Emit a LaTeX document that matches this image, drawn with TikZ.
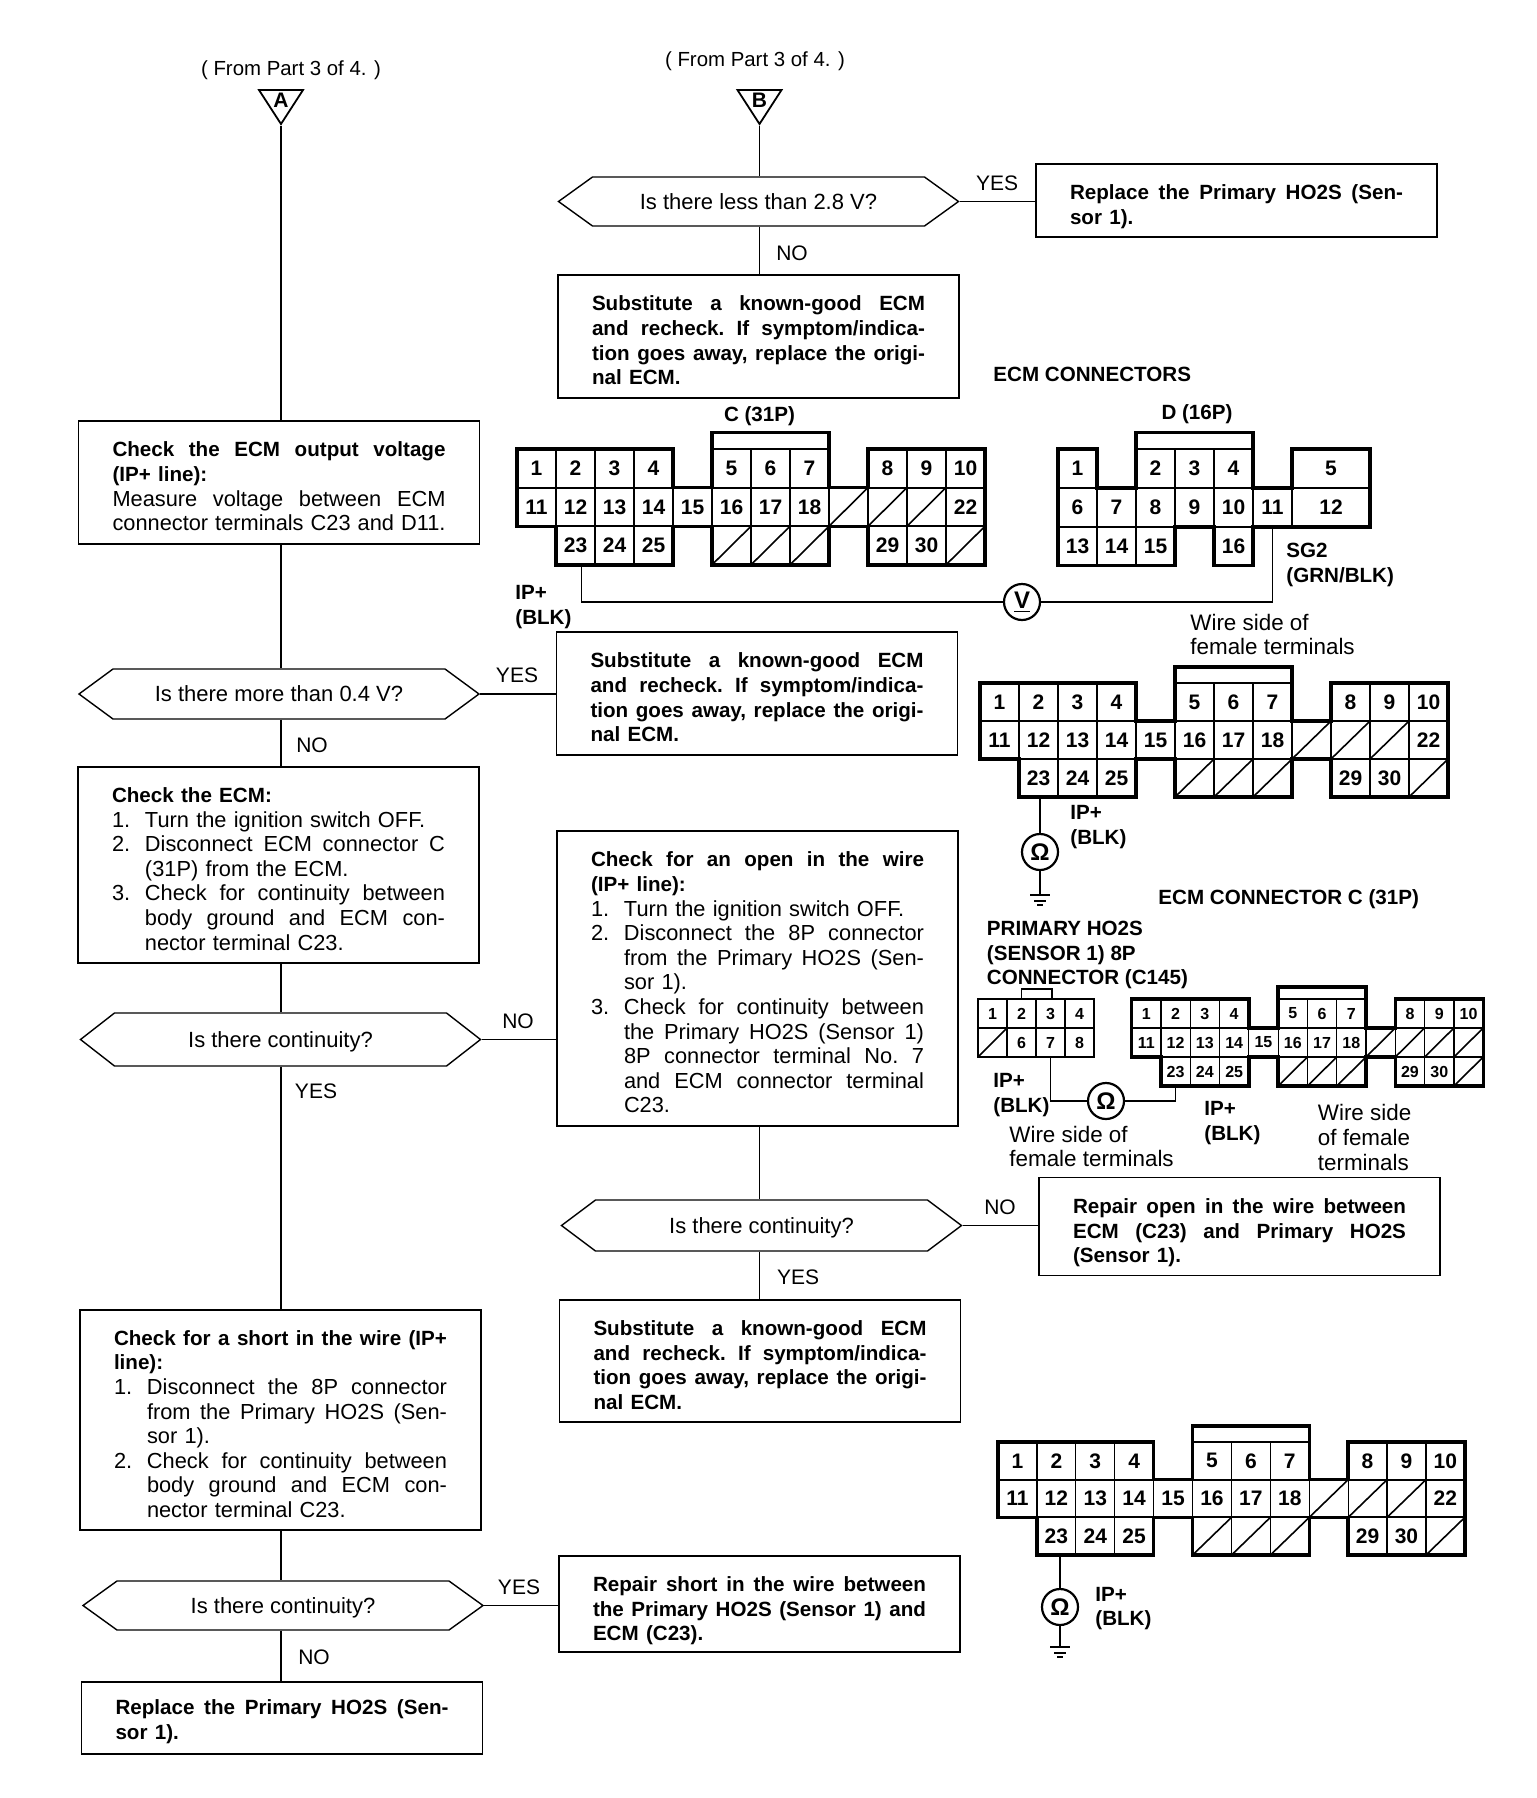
\documentclass[tikz,border=0pt]{standalone}
\usepackage{fontspec}
\setmainfont{Liberation Sans}
\usetikzlibrary{shapes.symbols,shapes.geometric}

\newlength{\txtw}
\setlength{\txtw}{166.5pt}
\newlength{\numw}
\setlength{\numw}{16.5pt}
\newcommand{\boxbold}{\bfseries\fontsize{10.3}{12.3}\selectfont}
\newcommand{\boxplain}{\mdseries\fontsize{10.9}{12.3}\selectfont}
% stretched line, stretched numbered line, plain numbered line
\newcommand{\justline}[1]{\makebox[\txtw][s]{\frenchspacing\spaceskip=0pt\xspaceskip=0pt #1}}
\newcommand{\numline}[2]{\makebox[\numw][l]{#1}\makebox[\dimexpr\txtw-\numw\relax][s]{\frenchspacing\spaceskip=0pt\xspaceskip=0pt #2}}
\newcommand{\numrag}[2]{\makebox[\numw][l]{#1}#2}

% name, x, y, x pitch, y pitch, number style, 1 if cell 22 is there
\newcommand{\ecmconn}[7]{
  \begin{scope}[shift={(#2,#3)},xscale=#4,yscale=#5,
      cell/.style={#6,minimum width=#4*0.5pt,minimum height=#5*0.5pt}]
    \foreach \c in {1,2,3,6,7,10,11} \draw[connline] (\c,0) -- (\c,3);
    \foreach \c in {4,5,8,9} \draw[connline] (\c,1) -- (\c,2);
    \draw[connrow] (0,1) -- (4,1) (5,1) -- (8,1) (9,1) -- (12,1);
    \draw[connrow] (1,2) -- (4,2) (5,2) -- (8,2) (9,2) -- (12,2);
    \draw[connrow] (5,0) -- (8,0);
    \foreach \c in {8,9,10} \draw[connslash] (\c,2) -- (\c+1,1);
    \foreach \c in {5,6,7,11} \draw[connslash] (\c,3) -- (\c+1,2);
    \draw[connedge] (0,0) -- (4,0) -- (4,1) -- (5,1) -- (5,-.42) -- (8,-.42) -- (8,1)
      -- (9,1) -- (9,0) -- (12,0) -- (12,3) -- (9,3) -- (9,2) -- (8,2) -- (8,3)
      -- (5,3) -- (5,2) -- (4,2) -- (4,3) -- (1,3) -- (1,2) -- (0,2) -- cycle;
    \foreach \n/\c in {1/0,2/1,3/2,4/3,5/5,6/6,7/7,8/9,9/10,10/11}
      \node[cell] (#1-\n) at (\c+.5,.5) {\n};
    \foreach \n/\c in {11/0,12/1,13/2,14/3,15/4,16/5,17/6,18/7}
      \node[cell] (#1-\n) at (\c+.5,1.5) {\n};
    \foreach \n/\c in {23/1,24/2,25/3,29/9,30/10}
      \node[cell] (#1-\n) at (\c+.5,2.5) {\n};
    \ifnum#7=1
      \node[cell] (#1-22) at (11.5,1.5) {22};
    \else
      \draw[connslash] (11,2) -- (12,1);
    \fi
  \end{scope}
}
% three bars under a named coordinate
\newcommand{\gndbars}[1]{
  \draw[wire] ([xshift=-5pt]#1) -- ([xshift=5pt]#1);
  \draw[wire] ([xshift=-3pt,yshift=-3pt]#1) -- ([xshift=3pt,yshift=-3pt]#1);
  \draw[wire] ([xshift=-1.5pt,yshift=-5pt]#1) -- ([xshift=1.5pt,yshift=-5pt]#1);
}

\begin{document}
\begin{tikzpicture}[
    x=0.5pt,y=-0.5pt,
    textfont/.style={font=\boxplain},
    boldfont/.style={font=\bfseries\fontsize{10.3}{12.3}\selectfont},
    every label/.style={font=\fontsize{11}{12.3}\selectfont,inner sep=0pt,text height=7.8pt,text depth=0pt},
    flowbox/.style={draw,line width=0.7pt,textfont,inner xsep=17pt,inner ysep=0pt,text width=\txtw,align=left,
      execute at begin node={\rule{0pt}{#1}}},
    flowbox/.default=11.4pt,
    flowhex/.style={draw,line width=0.7pt,signal,signal to=west and east,signal pointer angle={2*atan(#1/68)},
      minimum width=200pt,minimum height=#1*0.5pt,inner sep=0pt},
    flowtri/.style={draw,line width=0.9pt,isosceles triangle,isosceles triangle stretches,shape border rotate=-90,
      minimum width=22pt,minimum height=17pt,inner sep=0pt,font=\bfseries\fontsize{10.5}{12}\selectfont},
    flow/.style={line width=0.7pt},
    note/.style={font=\fontsize{10.5}{12.3}\selectfont,inner sep=0pt,align=left},
    wirenote/.style={font=\fontsize{11.2}{12.3}\selectfont,inner sep=0pt,align=left},
    boldnote/.style={boldfont,inner sep=0pt,align=left},
    wire/.style={line width=0.8pt},
    meter/.style={draw,circle,line width=1.1pt,minimum size=18pt,inner sep=0pt,font=\bfseries\fontsize{12}{12}\selectfont},
    connline/.style={line width=0.6pt},
    connrow/.style={line width=1pt},
    connslash/.style={line width=0.8pt},
    connedge/.style={line width=1.7pt,line join=miter},
    bignum/.style={inner sep=0pt,font=\bfseries\fontsize{10.5}{12}\selectfont},
    smallnum/.style={inner sep=0pt,font=\bfseries\fontsize{8}{10}\selectfont}]
  \useasboundingbox (0,0) rectangle (1536,1798);

  \node[note,font=\fontsize{10.2}{12.3}\selectfont] (FromA) at (291,70.5) {( From Part 3 of 4. )};
  \node[note,font=\fontsize{10.2}{12.3}\selectfont] (FromB) at (755,61.5) {( From Part 3 of 4. )};
  \node[flowtri] (TriA) at (281,100) {\raisebox{-0.8pt}{A}};
  \node[flowtri] (TriB) at (759.5,100) {\raisebox{-0.8pt}{B}};

  % left column
  \node[flowbox,minimum height=61.5pt] (CheckOut) at (279,482.5) {\boxbold
    \justline{Check the ECM output voltage}\\
    (IP+ line):\\ \boxplain
    \justline{Measure voltage between ECM}\\
    \justline{connector terminals C23 and D11.}};
  \node[flowhex=50,label=center:{Is there more than 0.4 V?}] (HexMore) at (279,694) {};
  \node[flowbox,minimum height=98pt] (CheckEcm) at (278.5,865) {{\boxbold Check the ECM:}\\
    \numrag{1.}{Turn the ignition switch OFF.}\\
    \numline{2.}{Disconnect ECM connector C}\\
    \numrag{}{(31P) from the ECM.}\\
    \numline{3.}{Check for continuity between}\\
    \numline{}{body ground and ECM con-}\\
    \numrag{}{nector terminal C23.}};
  \node[flowhex=53,label=center:{Is there continuity?}] (HexContA) at (280.5,1039.5) {};
  \node[flowbox,minimum height=110pt] (CheckShort) at (280.5,1420) {\boxbold
    \justline{Check for a short in the wire (IP+}\\
    line):\\ \boxplain
    \numline{1.}{Disconnect the 8P connector}\\
    \numline{}{from the Primary HO2S (Sen-}\\
    \numrag{}{sor 1).}\\
    \numline{2.}{Check for continuity between}\\
    \numline{}{body ground and ECM con-}\\
    \numrag{}{nector terminal C23.}};
  \node[flowhex=49,label=center:{Is there continuity?}] (HexContC) at (283,1605.5) {};
  \node[flowbox,minimum height=36pt] (ReplLow) at (282,1718) {\boxbold
    \justline{Replace the Primary HO2S (Sen-}\\
    sor 1).};

  % middle column
  \node[flowhex=49,label=center:{Is there less than 2.8 V?}] (HexLess) at (758.5,201.5) {};
  \node[flowbox=13.8pt,minimum height=36.5pt] (ReplTop) at (1236.5,200.5) {\boxbold
    \justline{Replace the Primary HO2S (Sen-}\\
    sor 1).};
  \node[flowbox,minimum height=61.5pt] (SubTop) at (758.5,336.5) {\boxbold
    \justline{Substitute a known-good ECM}\\
    \justline{and recheck. If symptom/indica-}\\
    \justline{tion goes away, replace the origi-}\\
    nal ECM.};
  \node[flowbox,minimum height=61.5pt] (SubMid) at (757,693.5) {\boxbold
    \justline{Substitute a known-good ECM}\\
    \justline{and recheck. If symptom/indica-}\\
    \justline{tion goes away, replace the origi-}\\
    nal ECM.};
  \node[flowbox,minimum height=147.5pt] (CheckOpen) at (757.5,978.5) {\boxbold
    \justline{Check for an open in the wire}\\
    (IP+ line):\\ \boxplain
    \numrag{1.}{Turn the ignition switch OFF.}\\
    \numline{2.}{Disconnect the 8P connector}\\
    \numline{}{from the Primary HO2S (Sen-}\\
    \numrag{}{sor 1).}\\
    \numline{3.}{Check for continuity between}\\
    \numline{}{the Primary HO2S (Sensor 1)}\\
    \numline{}{8P connector terminal No. 7}\\
    \numline{}{and ECM connector terminal}\\
    \numrag{}{C23.}};
  \node[flowhex=51,label=center:{Is there continuity?}] (HexContB) at (761.5,1225.5) {};
  \node[flowbox=13.8pt,minimum height=49pt] (RepOpen) at (1239.5,1226.5) {\boxbold
    \justline{Repair open in the wire between}\\
    \justline{ECM (C23) and Primary HO2S}\\
    (Sensor 1).};
  \node[flowbox,minimum height=61pt] (SubLow) at (760,1361) {\boxbold
    \justline{Substitute a known-good ECM}\\
    \justline{and recheck. If symptom/indica-}\\
    \justline{tion goes away, replace the origi-}\\
    nal ECM.};
  \node[flowbox=14.5pt,minimum height=48pt] (RepShort) at (759.5,1604) {\boxbold
    \justline{Repair short in the wire between}\\
    \justline{the Primary HO2S (Sensor 1) and}\\
    ECM (C23).};

  \draw[flow] (TriA.apex) -- (TriA.apex |- CheckOut.north);
  \draw[flow] (TriA.apex |- CheckOut.south) -- (TriA.apex |- HexMore.north);
  \draw[flow] (TriA.apex |- HexMore.south) -- (TriA.apex |- CheckEcm.north);
  \draw[flow] (TriA.apex |- CheckEcm.south) -- (TriA.apex |- HexContA.north);
  \draw[flow] (TriA.apex |- HexContA.south) -- (TriA.apex |- CheckShort.north);
  \draw[flow] (TriA.apex |- CheckShort.south) -- (TriA.apex |- HexContC.north);
  \draw[flow] (TriA.apex |- HexContC.south) -- (TriA.apex |- ReplLow.north);
  \draw[flow] (HexMore.east) -- (HexMore.east -| SubMid.west);
  \draw[flow] (HexContA.east) -- (HexContA.east -| CheckOpen.west);
  \draw[flow] (HexContC.east) -- (HexContC.east -| RepShort.west);
  \draw[flow] (TriB.apex) -- (TriB.apex |- HexLess.north);
  \draw[flow] (TriB.apex |- HexLess.south) -- (TriB.apex |- SubTop.north);
  \draw[flow] (HexLess.east) -- (HexLess.east -| ReplTop.west);
  \draw[flow] (TriB.apex |- CheckOpen.south) -- (TriB.apex |- HexContB.north);
  \draw[flow] (TriB.apex |- HexContB.south) -- (TriB.apex |- SubLow.north);
  \draw[flow] (HexContB.east) -- (HexContB.east -| RepOpen.west);

  \node[note] (YesA) at (997,183) {YES};
  \node[note] (NoA) at (792,253) {NO};
  \node[note] (YesB) at (517,675) {YES};
  \node[note] (NoB) at (312,745) {NO};
  \node[note] (NoC) at (518,1021) {NO};
  \node[note] (YesC) at (316,1091) {YES};
  \node[note] (NoD) at (1000,1207) {NO};
  \node[note] (YesD) at (798,1277) {YES};
  \node[note] (YesE) at (519,1587) {YES};
  \node[note] (NoE) at (314,1657) {NO};

  % ECM connectors C and D with the voltmeter
  \node[boldnote,anchor=west] (EcmTitle) at (993,374) {ECM CONNECTORS};
  \node[boldnote] (TitleC) at (759.5,416) {C (31P)};
  \node[boldnote] (TitleD) at (1197,414.5) {D (16P)};
  \ecmconn{cC}{517}{449}{39}{38.6}{bignum}{1}
  \begin{scope}[shift={(1058,449)},xscale=39,yscale=38.9,
      cell/.style={bignum,minimum width=19.5pt,minimum height=19.45pt}]
    \foreach \c in {1,2,3,4} \draw[connline] (\c,1) -- (\c,3);
    \foreach \c in {3,4} \draw[connline] (\c,0) -- (\c,1);
    \draw[connline] (5,1) -- (5,2) (6,1) -- (6,2);
    \draw[connrow] (0,1) -- (1,1) (2,1) -- (5,1) (6,1) -- (8,1);
    \draw[connrow] (0,2) -- (3,2) (4,2) -- (5,2) (2,0) -- (5,0);
    \draw[connedge] (0,0) -- (1,0) -- (1,1) -- (2,1) -- (2,-.42) -- (5,-.42) -- (5,1) -- (6,1)
      -- (6,0) -- (8,0) -- (8,2) -- (5,2) -- (5,3) -- (4,3) -- (4,2) -- (3,2) -- (3,3)
      -- (0,3) -- cycle;
    \foreach \n/\c in {1/0,2/2,3/3,4/4} \node[cell] (cD-\n) at (\c+.5,.5) {\n};
    \node[cell] (cD-5) at (7,.5) {5};
    \foreach \n/\c in {6/0,7/1,8/2,9/3,10/4,11/5} \node[cell] (cD-\n) at (\c+.5,1.5) {\n};
    \node[cell] (cD-12) at (7,1.5) {12};
    \foreach \n/\c in {13/0,14/1,15/2,16/4} \node[cell] (cD-\n) at (\c+.5,2.5) {\n};
  \end{scope}
  \node[meter] (Vm) at (1022,602) {\underline{V}};
  \draw[wire] ([xshift=3pt]cC-23.south) |- (Vm.west);
  \draw[wire] (Vm.east) -| (cD-11.south);
  \node[boldnote,anchor=west] (IpA) at (515,607) {IP+\\(BLK)};
  \node[boldnote,anchor=west] (SgTwo) at (1286,565) {SG2\\(GRN/BLK)};
  \node[wirenote,anchor=west] (WireA) at (1190,634.5) {Wire side of\\female terminals};

  % connector C to body ground
  \ecmconn{cG}{980}{683}{39}{38}{bignum}{1}
  \node[meter] (OmA) at (1040,852) {Ω};
  \coordinate (GndA) at (1040,895);
  \draw[wire] (cG-23.south -| OmA) -- (OmA);
  \draw[wire] (OmA) -- (GndA);
  \gndbars{GndA}
  \node[boldnote,anchor=west] (IpB) at (1070,827) {IP+\\(BLK)};
  \node[boldnote,anchor=west] (TitleCAlone) at (1158,899.5) {ECM CONNECTOR C (31P)};

  % 8P connector and connector C
  \node[boldnote,anchor=west] (TitleP) at (986.5,955) {PRIMARY HO2S\\(SENSOR 1) 8P\\CONNECTOR (C145)};
  \begin{scope}[shift={(978,999)},xscale=29,yscale=29,
      cell/.style={smallnum,minimum width=14.5pt,minimum height=14.5pt}]
    \foreach \c in {1,2,3} \draw[connline] (\c,0) -- (\c,2);
    \draw[connline] (0,1) -- (4,1);
    \draw[connslash] (0,2) -- (1,1);
    \draw[connedge,line width=0.9pt] (0,0) rectangle (4,2);
    \draw[connedge,line width=0.9pt] (1.5,0) -- (1.5,-.35) -- (2.55,-.35) -- (2.55,0);
    \foreach \n/\c in {1/0,2/1,3/2,4/3} \node[cell] (pE-\n) at (\c+.5,.5) {\n};
    \foreach \n/\c in {6/1,7/2,8/3} \node[cell] (pE-\n) at (\c+.5,1.5) {\n};
  \end{scope}
  \ecmconn{cS}{1131.6}{999}{29.3}{29}{smallnum}{0}
  \node[meter] (OmB) at (1106,1101) {Ω};
  \draw[wire] (pE-7.south) |- (OmB.west);
  \draw[wire] (OmB.east) -| (cS-23.south);
  \node[boldnote,anchor=west] (IpC) at (993,1095) {IP+\\(BLK)};
  \node[boldnote,anchor=west] (IpD) at (1204,1123) {IP+\\(BLK)};
  \node[wirenote,anchor=west] (WireB) at (1009,1146.5) {Wire side of\\female terminals};
  \node[wirenote,anchor=west] (WireC) at (1317.5,1137.5) {Wire side\\of female\\terminals};

  % connector C to body ground, second check
  \ecmconn{cL}{998}{1442}{38.9}{37.7}{bignum}{1}
  \node[meter] (OmC) at (1060,1607) {Ω};
  \coordinate (GndC) at (1060,1647);
  \draw[wire] (cL-23.south -| OmC) -- (OmC);
  \draw[wire] (OmC) -- (GndC);
  \gndbars{GndC}
  \node[boldnote,anchor=west] (IpE) at (1095,1608.5) {IP+\\(BLK)};
\end{tikzpicture}
\end{document}
